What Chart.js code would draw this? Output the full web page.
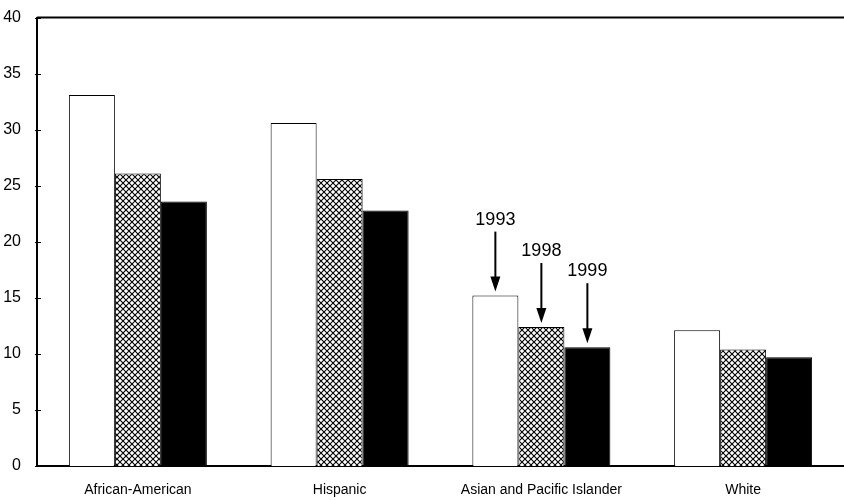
<!DOCTYPE html>
<html>
<head>
<meta charset="utf-8">
<script src="https://cdn.jsdelivr.net/npm/chart.js@4.4.1/dist/chart.umd.min.js"></script>
<style>
    html, body { margin: 0; padding: 0; background: #fff; }
    #wrap { width: 844px; height: 500px; }
</style>
</head>
<body>
<div id="wrap"><canvas id="groupChart"></canvas></div>
<script>
const categories = ['African-American', 'Hispanic', 'Asian and Pacific Islander', 'White'];
const years = ['1993', '1998', '1999'];
const values1993 = [33.1, 30.6, 15.2, 12.1];
const values1998 = [26.1, 25.6, 12.4, 10.4];
const values1999 = [23.6, 22.8, 10.6, 9.7];
const yTicks = [0, 5, 10, 15, 20, 25, 30, 35, 40];
// the group that carries the year arrows
const arrowCategory = 2;

// cross-hatch fill for the middle series
function makeHatch() {
    const c = document.createElement('canvas');
    c.width = 6;
    c.height = 6;
    const g = c.getContext('2d');
    g.fillStyle = '#fff';
    g.fillRect(0, 0, 6, 6);
    g.strokeStyle = '#000';
    g.lineWidth = 1.1;
    g.beginPath();
    g.moveTo(0, 0); g.lineTo(6, 6);
    g.moveTo(6, 0); g.lineTo(0, 6);
    g.stroke();
    return g.createPattern(c, 'repeat');
}

// frame line on top + arrows with year labels
const extrasPlugin = {
    id: 'extras',
    afterDraw(chart) {
        const ctx = chart.ctx;
        const area = chart.chartArea;
        ctx.save();
        ctx.strokeStyle = '#000';
        ctx.lineWidth = 2;
        ctx.beginPath();
        ctx.moveTo(area.left, area.top);
        ctx.lineTo(area.right, area.top);
        ctx.stroke();

        // small inward tick marks on the y axis
        const y = chart.scales.y;
        ctx.lineWidth = 1;
        yTicks.forEach(v => {
            const py = Math.round(y.getPixelForValue(v)) + 0.5;
            ctx.beginPath();
            ctx.moveTo(area.left - 2, py);
            ctx.lineTo(area.left + 4, py);
            ctx.stroke();
        });

        ctx.fillStyle = '#000';
        ctx.font = '18px "Liberation Sans", Arial, sans-serif';
        ctx.textAlign = 'center';
        ctx.textBaseline = 'middle';
        years.forEach((yr, i) => {
            const bar = chart.getDatasetMeta(i).data[arrowCategory];
            const x = bar.x;
            const tip = bar.y - 4;
            ctx.fillText(yr, x, tip - 72);
            ctx.lineWidth = 2;
            ctx.beginPath();
            ctx.moveTo(x, tip - 60);
            ctx.lineTo(x, tip - 12);
            ctx.stroke();
            ctx.beginPath();
            ctx.moveTo(x - 5, tip - 15);
            ctx.lineTo(x + 5, tip - 15);
            ctx.lineTo(x, tip);
            ctx.closePath();
            ctx.fill();
        });
        ctx.restore();
    }
};

const ctx = document.getElementById('groupChart');
new Chart(ctx, {
    type: 'bar',
    data: {
        labels: categories,
        datasets: [{
            label: '1993',
            data: values1993,
            backgroundColor: '#fff',
            borderColor: '#000',
            borderWidth: 1,
            borderSkipped: 'bottom'
        }, {
            label: '1998',
            data: values1998,
            backgroundColor: makeHatch(),
            borderColor: '#000',
            borderWidth: 1,
            borderSkipped: 'bottom'
        }, {
            label: '1999',
            data: values1999,
            backgroundColor: '#000',
            borderColor: '#000',
            borderWidth: 1,
            borderSkipped: 'bottom'
        }]
    },
    options: {
        responsive: true,
        maintainAspectRatio: false,
        animation: false,
        layout: {
            padding: { top: 8, right: 0, left: 0, bottom: 0 }
        },
        plugins: {
            legend: { display: false },
            tooltip: { enabled: false }
        },
        datasets: {
            bar: {
                categoryPercentage: 0.684,
                barPercentage: 1.0
            }
        },
        scales: {
            x: {
                grid: { display: false },
                border: { color: '#000', width: 2 },
                ticks: {
                    color: '#000',
                    padding: 8,
                    font: { family: '"Liberation Sans", Arial, sans-serif', size: 14 },
                    maxRotation: 0,
                    autoSkip: false
                },
                afterFit(scale) { scale.height = 34; }
            },
            y: {
                min: 0,
                max: 40,
                grid: { display: false },
                border: { color: '#000', width: 2 },
                afterBuildTicks(scale) {
                    scale.ticks = yTicks.map(v => ({ value: v }));
                },
                ticks: {
                    color: '#000',
                    padding: 8,
                    font: { family: '"Liberation Sans", Arial, sans-serif', size: 16 }
                },
                afterFit(scale) { scale.width = 37; }
            }
        }
    },
    plugins: [extrasPlugin]
});
</script>
</body>
</html>
